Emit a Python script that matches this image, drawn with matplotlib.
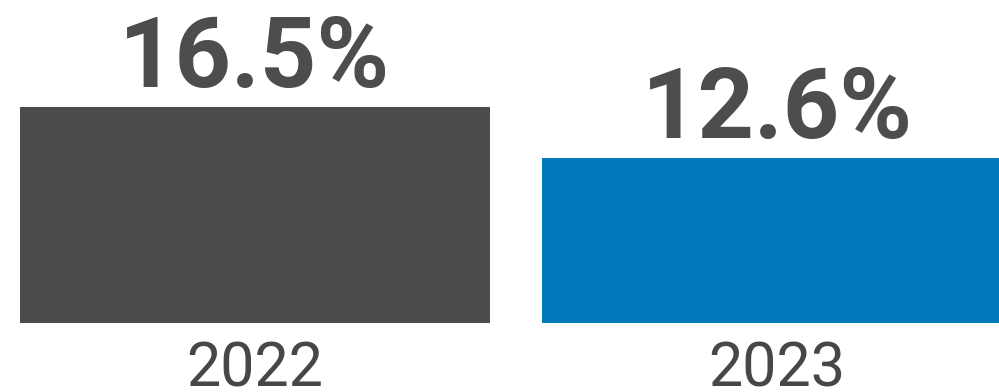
import matplotlib
matplotlib.use("Agg")
import matplotlib.pyplot as plt

years = ["2022", "2023"]
rates = [16.5, 12.6]
bar_colors = ["#4b4b4b", "#0079bb"]

W, H = 999, 392
fig = plt.figure(figsize=(W / 100, H / 100), dpi=100)
# axes run slightly past the right edge so the second bar gets clipped
ax = fig.add_axes([-6 / W, 69 / H, 1044 / W, 262 / H])
ax.set_xlim(-0.5, 1.5)
ax.set_ylim(0, 20)
ax.axis("off")

xs = range(len(years))
ax.bar(xs, rates, width=0.9, color=bar_colors, zorder=2)

for x, v, yr in zip(xs, rates, years):
    ax.annotate(f"{v}%", (x, v), xytext=(0, 14), textcoords="offset points",
                ha="center", va="baseline", fontsize=71, fontweight="bold",
                family="Roboto", color="#4d4d4d", annotation_clip=False)
    ax.annotate(yr, (x, 0), xytext=(0, -46), textcoords="offset points",
                ha="center", va="baseline", fontsize=44,
                family="Roboto", color="#474747", annotation_clip=False)

fig.savefig("out.png", dpi=100)
